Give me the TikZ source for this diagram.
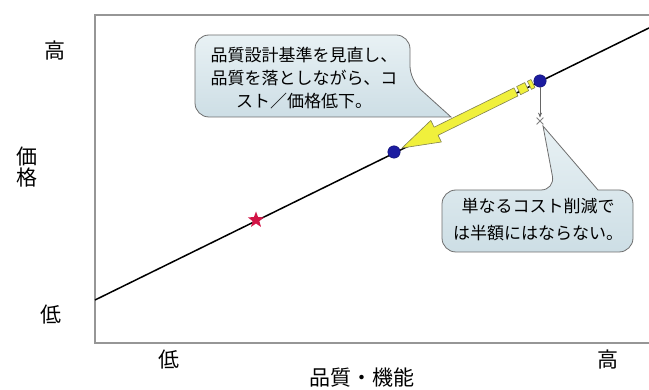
\documentclass[tikz,border=0pt]{standalone}
\usepackage{fontspec}
\setmainfont{Noto Sans CJK JP}
\usetikzlibrary{shapes.geometric,shapes.misc,arrows.meta,calc}
\definecolor{calltop}{RGB}{232,241,244}
\definecolor{callbot}{RGB}{205,222,229}
\definecolor{callline}{RGB}{110,110,110}
\definecolor{framec}{RGB}{150,150,150}
\definecolor{dotblue}{RGB}{28,28,160}
\definecolor{starred}{RGB}{210,20,70}
\definecolor{arrowyellow}{RGB}{240,240,60}
\definecolor{arrowedge}{RGB}{130,130,80}
\tikzset{
  axislabel/.style={font=\fontsize{21}{21}\selectfont, inner sep=0pt, align=center},
  calltext/.style={font=\fontsize{17}{23}\selectfont, inner sep=0pt, align=center},
  callshape/.style={draw=callline, line width=0.8pt, top color=calltop, bottom color=callbot},
  bluedot/.style={circle, fill=dotblue, draw=dotblue!70!black, line width=0.4pt, minimum size=12.5pt, inner sep=0pt},
  redstar/.style={star, star points=5, star point ratio=2.4, fill=starred, draw=none, minimum size=17pt, inner sep=0pt},
  xmark/.style={cross out, draw=gray, line width=0.8pt, minimum size=6pt, inner sep=0pt},
  yarrow/.style={fill=arrowyellow, draw=arrowedge, line width=0.6pt, line join=round},
}
\begin{document}
\begin{tikzpicture}[x=1pt,y=-1pt]
\useasboundingbox (0,0) rectangle (649,390);
\fill[white] (0,0) rectangle (649,390);
% frame
\draw[framec, line width=1.2pt] (649,15) -- (95,15) -- (95,343) -- (649,343);
% axis labels
\node[axislabel] (yhigh) at (55,51) {高};
\node[axislabel, font=\fontsize{21}{21}\selectfont] (ylab) at (27,167) {価\\格};
\node[axislabel] (ylow) at (51,315) {低};
\node[axislabel] (xlow) at (169,360) {低};
\node[axislabel] (xlab) at (362,378) {品質・機能};
\node[axislabel] (xhigh) at (608,360) {高};
% callout 1
\path[callshape] (195,80) [rounded corners=14pt] -- (195,35) -- (410,35) -- (410,80) [sharp corners] -- (451,117) -- (396,117) [rounded corners=14pt] -- (195,117) -- cycle;
\node[calltext] (c1) at (304,78) {品質設計基準を見直し、\\品質を落としながら、コ\\スト／価格低下。};
% callout 2
\path[callshape] (442,220) [rounded corners=14pt] -- (442,190) -- (555,190) [sharp corners] -- (543,126) -- (598,190) [rounded corners=14pt] -- (633,190) -- (633,252) -- (442,252) -- cycle;
\node[calltext, font=\fontsize{17}{27}\selectfont] (c2) at (538,220) {単なるコスト削減で\\は半額にはならない。};
% main line
\coordinate (l0) at (95,300);
\coordinate (l1) at (652,26.5);
\draw[black, line width=1.5pt] (l0) -- (l1);
% yellow arrow
\begin{scope}[shift={(402,148)}, rotate=26.2]
  \path[yarrow] (0,0) -- (38,-12) -- (38,-4.5) -- (127,-4.5) -- (127,4.5) -- (38,4.5) -- (38,12) -- cycle;
  \path[yarrow] (130,-4.5) rectangle (139,4.5);
  \path[yarrow] (142,-4.5) rectangle (146,4.5);
\end{scope}
% markers
\node[bluedot] (d1) at (394,152) {};
\node[bluedot] (d2) at (540,81) {};
\node[redstar] (st) at (256,220) {};
\node[xmark] (xm) at (540,121) {};
\draw[gray!80!black, line width=0.7pt, -{Stealth[length=5pt,width=4pt]}] (d2) -- (xm.north);
\end{tikzpicture}
\end{document}
